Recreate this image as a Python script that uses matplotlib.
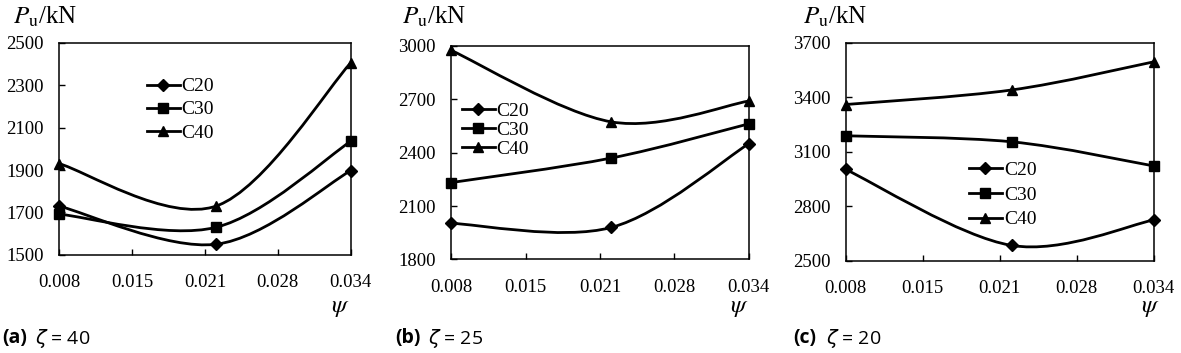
import numpy as np
import matplotlib
matplotlib.use('Agg')
from matplotlib import pyplot as plt
from matplotlib.path import Path
from matplotlib.patches import PathPatch
from matplotlib.lines import Line2D

# данные: psi и несущая способность Pu (кН) для трёх бетонов
psi = [0.008, 0.022, 0.034]
grades = ['C20', 'C30', 'C40']

a_c20 = [1730, 1550, 1897]
a_c30 = [1692, 1630, 2035]
a_c40 = [1930, 1730, 2405]

b_c20 = [2003, 1980, 2450]
b_c30 = [2232, 2370, 2562]
b_c40 = [2975, 2573, 2690]

c_c20 = [3003, 2585, 2725]
c_c30 = [3188, 3155, 3022]
c_c40 = [3360, 3440, 3595]

xticks = [0.008, 0.0145, 0.021, 0.0275, 0.034]
xticklabels = ['0.008', '0.015', '0.021', '0.028', '0.034']

plt.rcParams['font.family'] = ['Liberation Serif', 'DejaVu Serif']
plt.rcParams['mathtext.fontset'] = 'dejavusans'

markers = ['D', 's', '^']
msizes = [6, 6.5, 7.5]


def smooth_path(x, y):
    # сглаженная линия как в Excel (Catmull-Rom -> Безье)
    pts = np.column_stack([x, y]).astype(float)
    ext = np.vstack([pts[0], pts, pts[-1]])
    verts = [pts[0]]
    codes = [Path.MOVETO]
    for i in range(1, len(ext) - 2):
        p0, p1, p2, p3 = ext[i - 1], ext[i], ext[i + 1], ext[i + 2]
        verts += [p1 + (p2 - p0) / 6, p2 - (p3 - p1) / 6, p2]
        codes += [Path.CURVE4] * 3
    return Path(verts, codes)


fig = plt.figure(figsize=(11.81, 3.53), dpi=100)

panels = [
    ([0.050, 0.278, 0.247, 0.601], (1500, 2500), [1500, 1700, 1900, 2100, 2300, 2500],
     [a_c20, a_c30, a_c40], (0.30, 0.835), 22, 13, 2, r'$\zeta$ = 40', '(a)', 350),
    ([0.382, 0.265, 0.252, 0.605], (1800, 3000), [1800, 2100, 2400, 2700, 3000],
     [b_c20, b_c30, b_c40], (0.035, 0.735), 19, 402, 395, r'$\zeta$ = 25', '(b)', 749),
    ([0.716, 0.261, 0.261, 0.618], (2500, 3700), [2500, 2800, 3100, 3400, 3700],
     [c_c20, c_c30, c_c40], (0.40, 0.455), 23, 803, 793, r'$\zeta$ = 20', '(c)', 1160),
]

for rect, ylim, yticks, series, leg_xy, leg_gap, px, cx, cap, lab, psx in panels:
    ax = fig.add_axes(rect)
    for vals, m, ms in zip(series, markers, msizes):
        ax.add_patch(PathPatch(smooth_path(psi, vals), fill=False, lw=2,
                               edgecolor='black', clip_on=False))
        ax.plot(psi, vals, ls='none', marker=m, ms=ms, color='black', clip_on=False)
    ax.set_xlim(0.008, 0.034)
    ax.set_ylim(*ylim)
    ax.set_xticks(xticks)
    ax.set_xticklabels(xticklabels)
    ax.set_yticks(yticks)
    ax.tick_params(direction='in', length=4, width=1, labelsize=13.5, pad=11)
    ax.tick_params(axis='x', pad=14)
    for s in ax.spines.values():
        s.set_linewidth(1.1)
    handles = [Line2D([], [], color='black', lw=2, marker=m, ms=ms)
               for m, ms in zip(markers, msizes)]
    ax.legend(handles, grades, loc='upper left', bbox_to_anchor=leg_xy, frameon=False,
              fontsize=14, handlelength=1.7, handletextpad=0.1,
              labelspacing=(leg_gap - 18) / 14, borderaxespad=0, borderpad=0)
    fig.text(px / 1181, 1 - 24 / 353, r'$P_{\mathrm{u}}$/kN', fontsize=18,
             va='baseline', ha='left', math_fontfamily='stix')
    fig.text(psx / 1181, 1 - 308 / 353, r'$\psi$', fontsize=18, ha='right', va='center',
             math_fontfamily='stix')
    fig.text(cx / 1181, 1 - 338 / 353, lab, fontsize=14, fontweight='bold',
             family=['Open Sans', 'DejaVu Sans'], va='center', ha='left')
    fig.text((cx + 33) / 1181, 1 - 338 / 353, cap, fontsize=14,
             family=['Open Sans', 'DejaVu Sans'], va='center', ha='left')

fig.savefig('out.png', dpi=100)
